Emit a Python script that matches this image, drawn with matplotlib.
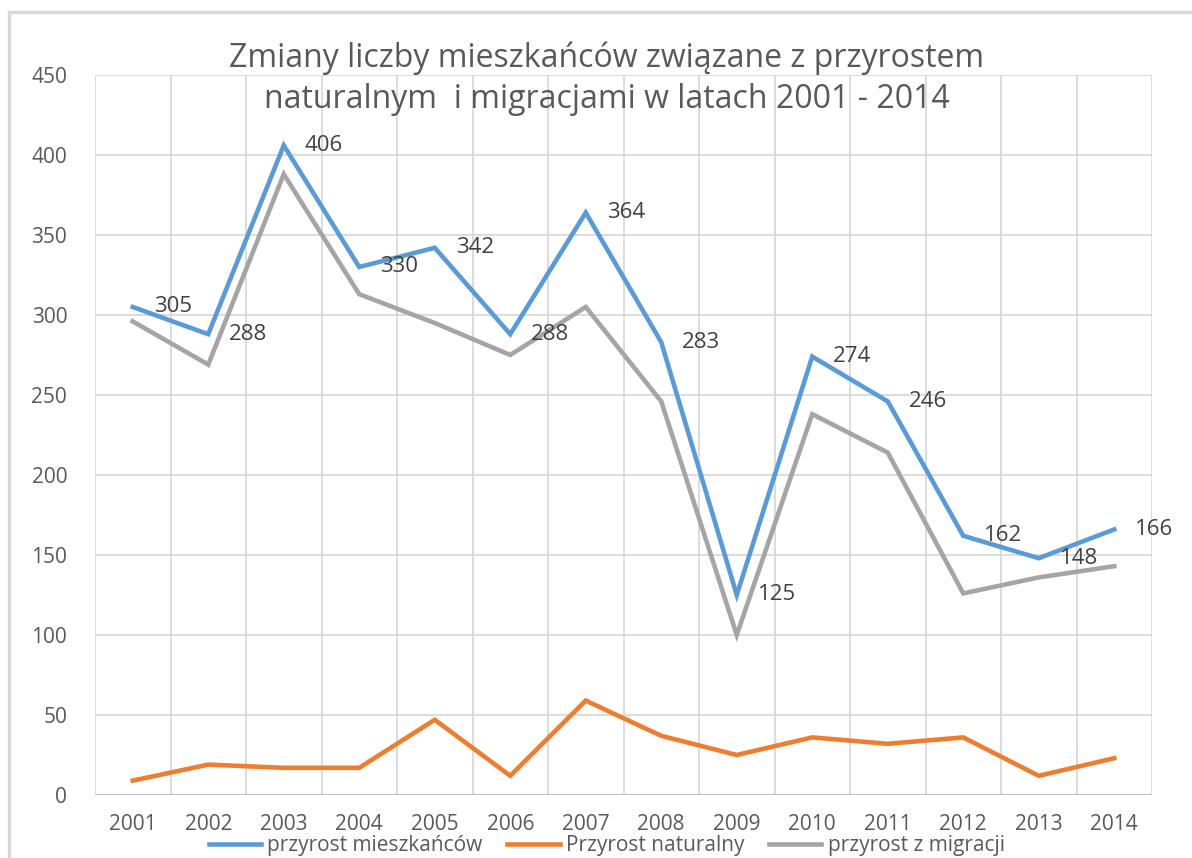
import numpy as np
import matplotlib
matplotlib.use('Agg')
import matplotlib.pyplot as plt
from matplotlib.lines import Line2D

plt.rcParams['font.family'] = ['Open Sans', 'DejaVu Sans']

lata = ['2001', '2002', '2003', '2004', '2005', '2006', '2007',
        '2008', '2009', '2010', '2011', '2012', '2013', '2014']
przyrost_mieszkancow = [305, 288, 406, 330, 342, 288, 364, 283, 125, 274, 246, 162, 148, 166]
przyrost_naturalny = [9, 19, 17, 17, 47, 12, 59, 37, 25, 36, 32, 36, 12, 23]
przyrost_migracji = [296, 269, 388, 313, 295, 275, 305, 246, 100, 238, 214, 126, 136, 143]

szary_tekst = '#595959'
siatka = '#d9d9d9'

fig = plt.figure(figsize=(11.92, 8.58), dpi=100)
ax = fig.add_axes([95 / 1192, 1 - 795 / 858, (1152 - 95) / 1192, (795 - 75) / 858])

x = np.arange(len(lata))
ax.plot(x, przyrost_mieszkancow, color='#5B9BD5', lw=3.3, solid_joinstyle='miter', zorder=4)
ax.plot(x, przyrost_naturalny, color='#ED7D31', lw=3.3, solid_joinstyle='miter', zorder=3)
ax.plot(x, przyrost_migracji, color='#A5A5A5', lw=3.3, solid_joinstyle='miter', zorder=2)

# etykiety danych tylko dla niebieskiej serii
for xi, v in zip(x, przyrost_mieszkancow):
    ax.annotate(str(v), (xi, v), xytext=(15, 0), textcoords='offset points',
                ha='left', va='center', fontsize=16, color='#404040',
                annotation_clip=False, zorder=5)

ax.set_xlim(-0.5, len(lata) - 0.5)
ax.set_ylim(0, 450)
ax.set_yticks(np.arange(0, 451, 50))
ax.set_xticks(x)
ax.set_xticklabels(lata)
ax.set_xticks(np.arange(-0.5, len(lata), 1), minor=True)
ax.tick_params(axis='both', which='both', length=0, labelsize=15, colors=szary_tekst)
ax.tick_params(axis='y', pad=20)
ax.tick_params(axis='x', pad=14)
ax.grid(True, axis='y', which='major', color=siatka, lw=1.3)
ax.grid(True, axis='x', which='minor', color=siatka, lw=1.3)
ax.set_axisbelow(True)
for s in ax.spines.values():
    s.set_visible(False)
ax.axhline(0, color='#bfbfbf', lw=1.5, zorder=1)

fig.text(0.509, 1 - 58 / 858, 'Zmiany liczby mieszkańców związane z przyrostem',
         ha='center', va='center', fontsize=23, color=szary_tekst)
fig.text(0.509, 1 - 100 / 858, 'naturalnym  i migracjami w latach 2001 - 2014',
         ha='center', va='center', fontsize=23, color=szary_tekst)

uchwyty = [Line2D([], [], color='#5B9BD5', lw=3.3),
           Line2D([], [], color='#ED7D31', lw=3.3),
           Line2D([], [], color='#A5A5A5', lw=3.3)]
fig.legend(uchwyty, ['przyrost mieszkańców', 'Przyrost naturalny', 'przyrost z migracji'],
           loc='center', bbox_to_anchor=(0.509, 1 - 846 / 858), ncol=3, frameon=False,
           fontsize=15, handlelength=2.5, handletextpad=0.3, columnspacing=1.2,
           labelcolor=szary_tekst, borderpad=0)

# ramka wykresu (widoczna góra i lewa strona)
fig.add_artist(Line2D([9 / 1192, 9 / 1192], [0, 1 - 12 / 858], color='#d9d9d9', lw=2.5))
fig.add_artist(Line2D([9 / 1192, 1], [1 - 12 / 858, 1 - 12 / 858], color='#d9d9d9', lw=2.5))

fig.savefig('out.png', dpi=100)
